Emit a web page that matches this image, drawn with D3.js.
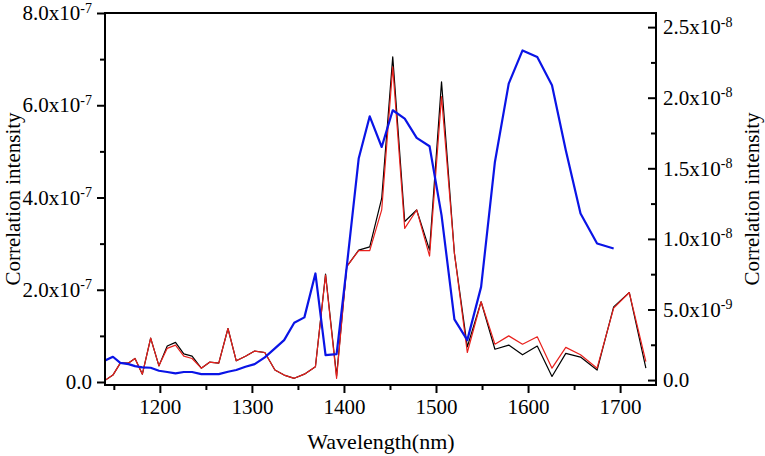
<!DOCTYPE html>
<html>
<head>
<meta charset="utf-8">
<script src="https://cdn.jsdelivr.net/npm/d3@7"></script>
<style>
  html, body { margin: 0; padding: 0; background: #fff; }
  svg { display: block; }
  text { font-family: "Liberation Serif", "Times New Roman", serif; fill: #000; }
</style>
</head>
<body>
<svg id="chart" width="765" height="456"></svg>
<script>
// ---- data ----
const wavelength = [1140, 1149, 1157, 1166, 1173, 1181, 1190, 1199, 1208, 1217, 1226, 1235, 1245, 1254, 1264, 1274, 1283, 1293, 1303, 1314, 1325, 1335, 1346, 1357, 1369, 1380, 1392, 1403, 1416, 1428, 1441, 1453, 1466, 1479, 1493, 1506, 1520, 1534, 1549, 1564, 1579, 1594, 1610, 1626, 1641, 1657, 1675, 1693, 1710, 1728];
// left axis series (x1e-7)
const blackSeries = [0.03, 0.15, 0.41, 0.41, 0.51, 0.17, 0.95, 0.35, 0.78, 0.86, 0.61, 0.56, 0.30, 0.43, 0.41, 1.16, 0.46, 0.56, 0.67, 0.64, 0.26, 0.15, 0.08, 0.17, 0.33, 2.34, 0.13, 2.50, 2.86, 2.93, 3.98, 7.05, 3.48, 3.73, 2.86, 6.51, 2.79, 0.76, 1.74, 0.71, 0.80, 0.59, 0.78, 0.12, 0.62, 0.54, 0.26, 1.63, 1.94, 0.30];
const redSeries = [0.03, 0.15, 0.41, 0.41, 0.51, 0.17, 0.95, 0.35, 0.73, 0.80, 0.56, 0.51, 0.30, 0.43, 0.41, 1.16, 0.46, 0.56, 0.67, 0.64, 0.26, 0.15, 0.08, 0.17, 0.33, 2.32, 0.08, 2.50, 2.85, 2.85, 3.73, 6.83, 3.33, 3.73, 2.73, 6.19, 2.79, 0.64, 1.74, 0.82, 1.00, 0.82, 0.98, 0.30, 0.75, 0.59, 0.30, 1.60, 1.94, 0.44];
// right axis series (x1e-9)
const blueSeries = [1.37, 1.65, 1.22, 1.13, 0.99, 0.90, 0.87, 0.66, 0.57, 0.47, 0.57, 0.57, 0.42, 0.42, 0.42, 0.59, 0.71, 0.94, 1.13, 1.61, 2.24, 2.83, 4.06, 4.44, 7.55, 1.77, 1.84, 8.02, 15.69, 18.68, 16.51, 19.11, 18.52, 17.15, 16.56, 11.68, 4.30, 2.83, 6.60, 15.45, 21.00, 23.35, 22.88, 20.88, 16.28, 11.80, 9.67, 9.32];

const xTicks = [1200, 1300, 1400, 1500, 1600, 1700];
const xMinorTicks = [1150, 1250, 1350, 1450, 1550, 1650];
const leftTicks = [0, 2e-7, 4e-7, 6e-7, 8e-7];
const leftTickLabels = [["0.0", ""], ["2.0x10", "-7"], ["4.0x10", "-7"], ["6.0x10", "-7"], ["8.0x10", "-7"]];
const leftMinorTicks = [1e-7, 3e-7, 5e-7, 7e-7];
const rightTicks = [0, 5e-9, 1e-8, 1.5e-8, 2e-8, 2.5e-8];
const rightTickLabels = [["0.0", ""], ["5.0x10", "-9"], ["1.0x10", "-8"], ["1.5x10", "-8"], ["2.0x10", "-8"], ["2.5x10", "-8"]];
const rightMinorTicks = [2.5e-9, 7.5e-9, 1.25e-8, 1.75e-8, 2.25e-8];

// ---- layout ----
const L = 105, R = 656, T = 13, B = 385;
const svg = d3.select("#chart");

const x = d3.scaleLinear().domain([1140.4, 1739]).range([L, R]);
const yL = d3.scaleLinear().domain([-0.065e-7, 8e-7]).range([B, T]);
const yR = d3.scaleLinear().domain([-0.35e-9, 26e-9]).range([B, T]);

const fs = 21;
const ff = '"Liberation Serif", "Times New Roman", serif';

function styleAxis(g) {
  g.select(".domain").remove();
  g.selectAll("line").attr("stroke", "#000").attr("stroke-width", 2);
  g.selectAll("text").attr("font-size", fs).attr("font-family", ff);
}
function sciText(g, labels) {
  g.selectAll(".tick text").each(function(d, i) {
    const t = d3.select(this);
    t.text(null);
    t.append("tspan").text(labels[i][0]);
    if (labels[i][1]) t.append("tspan").attr("dy", "-0.55em").attr("font-size", 14).text(labels[i][1]);
  });
}

// bottom axis
svg.append("g").attr("transform", `translate(0,${B})`)
  .call(d3.axisBottom(x).tickValues(xTicks).tickSize(8).tickPadding(6).tickFormat(d3.format("d")))
  .call(styleAxis);
svg.append("g").attr("transform", `translate(0,${B})`)
  .call(d3.axisBottom(x).tickValues(xMinorTicks).tickSize(5).tickFormat(""))
  .call(styleAxis);

// left axis
const gl = svg.append("g").attr("transform", `translate(${L},0)`)
  .call(d3.axisLeft(yL).tickValues(leftTicks).tickSize(8).tickPadding(5))
  .call(styleAxis);
sciText(gl, leftTickLabels);
svg.append("g").attr("transform", `translate(${L},0)`)
  .call(d3.axisLeft(yL).tickValues(leftMinorTicks).tickSize(5).tickFormat(""))
  .call(styleAxis);

// right axis (ticks point inward)
const gr = svg.append("g").attr("transform", `translate(${R},0)`)
  .call(d3.axisRight(yR).tickValues(rightTicks).tickSizeInner(-8).tickSizeOuter(0).tickPadding(7))
  .call(styleAxis);
sciText(gr, rightTickLabels);
svg.append("g").attr("transform", `translate(${R},0)`)
  .call(d3.axisRight(yR).tickValues(rightMinorTicks).tickSizeInner(-5).tickSizeOuter(0).tickFormat(""))
  .call(styleAxis);

// lines
svg.append("clipPath").attr("id", "clip").append("rect")
  .attr("x", L).attr("y", T).attr("width", R - L).attr("height", B - T);
const plot = svg.append("g").attr("clip-path", "url(#clip)");

const lineL = d3.line().x(d => x(d[0])).y(d => yL(d[1]));
const lineR = d3.line().x(d => x(d[0])).y(d => yR(d[1]));

plot.append("path")
  .datum(wavelength.map((w, i) => [w, blackSeries[i] * 1e-7]))
  .attr("d", lineL).attr("fill", "none").attr("stroke", "#000").attr("stroke-width", 1.2).attr("stroke-linejoin", "round");
plot.append("path")
  .datum(wavelength.map((w, i) => [w, redSeries[i] * 1e-7]))
  .attr("d", lineL).attr("fill", "none").attr("stroke", "#e8201c").attr("stroke-width", 1.2).attr("stroke-linejoin", "round");
plot.append("path")
  .datum(blueSeries.map((v, i) => [wavelength[i], v * 1e-9]))
  .attr("d", lineR).attr("fill", "none").attr("stroke", "#0a14e6").attr("stroke-width", 2.2).attr("stroke-linejoin", "round");

// frame
svg.append("rect").attr("x", L).attr("y", T).attr("width", R - L).attr("height", B - T)
  .attr("fill", "none").attr("stroke", "#000").attr("stroke-width", 2);

// titles
svg.append("text").attr("transform", `translate(20,${(T + B) / 2}) rotate(-90)`)
  .attr("text-anchor", "middle").attr("font-size", 21).attr("font-family", ff).text("Correlation intensity");
svg.append("text").attr("transform", `translate(759,${(T + B) / 2}) rotate(-90)`)
  .attr("text-anchor", "middle").attr("font-size", 21).attr("font-family", ff).text("Correlation intensity");
svg.append("text").attr("x", 381).attr("y", 449)
  .attr("text-anchor", "middle").attr("font-size", 22).attr("font-family", ff).text("Wavelength(nm)");
</script>
</body>
</html>
